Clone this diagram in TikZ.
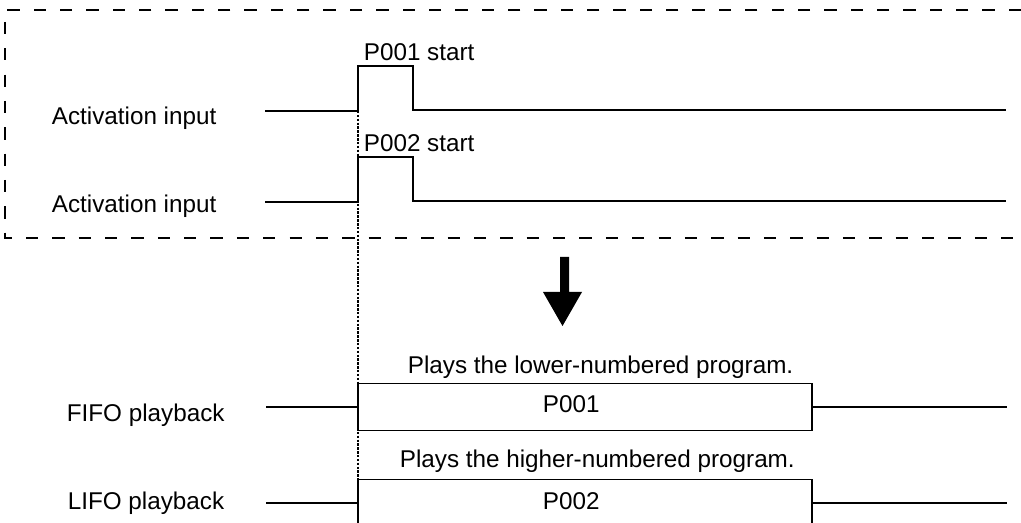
\documentclass[tikz,border=0pt]{standalone}
\usepackage{fontspec}
\setmainfont{Liberation Sans}
\usetikzlibrary{positioning,calc}

\begin{document}
\begin{tikzpicture}[x=0.02cm,y=-0.02cm,line width=1pt,
  lbl/.style={font=\fontsize{13.8}{16}\selectfont,inner sep=0pt,anchor=base west},
  frame/.style={line width=0.8pt,dash pattern=on 7pt off 8pt},
  trigline/.style={line width=1.2pt,dash pattern=on 1.4pt off 0.8pt},
  progbox/.style={draw,minimum width=9.08cm,minimum height=0.94cm,inner sep=0pt}]
  \clip (0,0) rectangle (1021,523);
  % input frame
  \draw[frame] (1021,10) -- (5,10) -- (5,238) -- (1021,238);
  % activation inputs
  \node[lbl] (actA) at (51,125) {Activation input};
  \node[lbl] (actB) at (51,213) {Activation input};
  \node[lbl] (startA) at (363,61) {P001 start};
  \node[lbl] (startB) at (363,152) {P002 start};
  \coordinate (trig) at (358,111);
  \draw (265,111) -- (trig) -- (358,66) -- (413,66) -- (413,110) -- (1006,110);
  \draw (265,202) -- (358,202) -- (358,157) -- (413,157) -- (413,201) -- (1006,201);
  % trigger marker
  \draw[trigline] (trig) -- (trig |- 0,523);
  % result arrow
  \fill (560,257) -- (569,257) -- (569,292) -- (582,292) -- (562.5,326)
        -- (543,292) -- (560,292) -- cycle;
  % playback
  \node[lbl] (fifo) at (66,421) {FIFO playback};
  \node[lbl] (lifo) at (67,509) {LIFO playback};
  \node[lbl] (lowNote) at (407,374) {Plays the lower-numbered program.};
  \node[lbl] (highNote) at (399,467) {Plays the higher-numbered program.};
  \node[progbox] (boxA) at (585,407) {};
  \node[progbox] (boxB) at (585,503) {};
  \node[lbl] (progA) at (542,413) {P001};
  \node[lbl] (progB) at (542,509) {P002};
  \coordinate (fifoIn) at (266,407);
  \coordinate (fifoOut) at (1007,407);
  \coordinate (lifoIn) at (266,503);
  \coordinate (lifoOut) at (1007,503);
  \draw (fifoIn) -- (boxA.west) (boxA.east) -- (fifoOut);
  \draw (lifoIn) -- (boxB.west) (boxB.east) -- (lifoOut);
\end{tikzpicture}
\end{document}
